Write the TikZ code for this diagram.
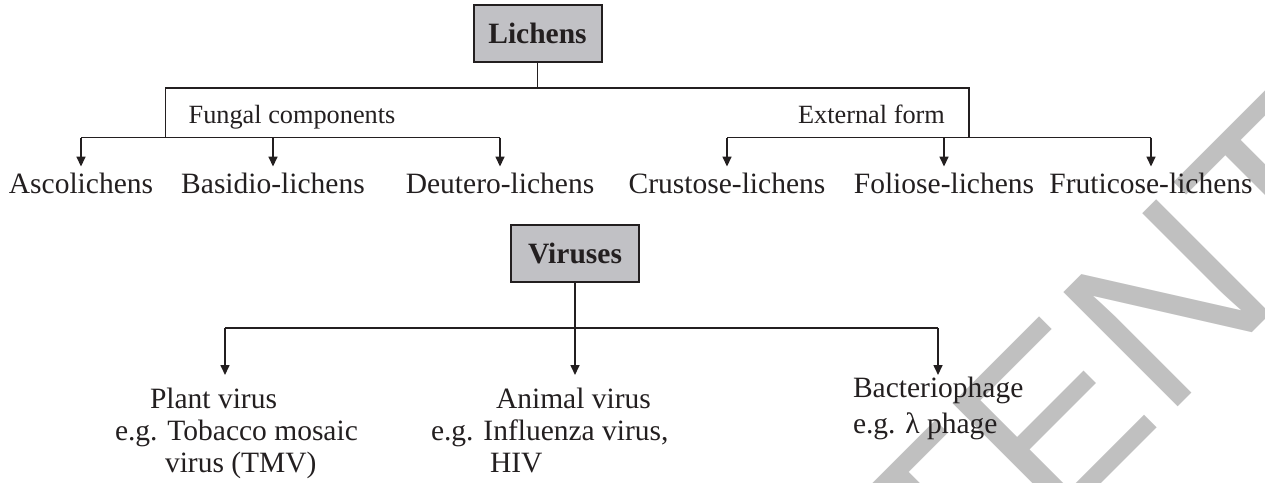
\documentclass[tikz,border=0pt]{standalone}
\usepackage{fontspec}
\setmainfont{Liberation Serif}
\newfontfamily\wmfont{Liberation Sans}
\usetikzlibrary{arrows.meta}
\definecolor{boxgray}{RGB}{193,193,197}
\definecolor{ink}{RGB}{35,31,32}
\definecolor{wmgray}{RGB}{192,192,192}
\begin{document}
\begin{tikzpicture}[x=1pt,y=-1pt,
  every node/.style={inner sep=0pt, outer sep=0pt, text=ink},
  headbox/.style={draw=ink, line width=2pt, fill=boxgray, minimum width=128pt, minimum height=56.5pt, font=\fontsize{29.5}{32}\selectfont\bfseries},
  leaf/.style={font=\fontsize{29.5}{32}\selectfont, anchor=base},
  grouplabel/.style={font=\fontsize{26.3}{30}\selectfont, anchor=base},
  vleaf/.style={font=\fontsize{29.5}{32}\selectfont, anchor=north west, align=left},
  conn/.style={draw=ink, line width=1.6pt},
  arr/.style={conn, -{Triangle[length=10pt,width=9pt]}},
]
\useasboundingbox (0,0) rectangle (1265,482);
% watermark
\begin{scope}
  \clip (0,0) rectangle (1265,482);
  \node[rotate=45, anchor=base west, font=\wmfont\fontsize{235}{240}\selectfont, text=wmgray] (wm) at (583,1002) {CONTENT};
\end{scope}

% Lichens tree
\node[headbox] (lichens) at (537.5,33.3) {Lichens};
\node[grouplabel] (fungal) at (292,123) {Fungal components};
\node[grouplabel] (external) at (871.5,123) {External form};
\node[leaf] (asco)  at (81,193)   {Ascolichens};
\node[leaf] (basid) at (273,193)  {Basidio-lichens};
\node[leaf] (deut)  at (500,193)  {Deutero-lichens};
\node[leaf] (crust) at (727,193)  {Crustose-lichens};
\node[leaf] (foli)  at (944,193)  {Foliose-lichens};
\node[leaf] (frut)  at (1151,193) {Fruticose-lichens};

\coordinate (ltop) at (537.5,87.7);
\coordinate (fj) at (165.5,137.5);
\coordinate (ej) at (969,137.5);
\draw[conn] (lichens.south) -- (ltop);
\draw[conn] (fj) -- (fj |- ltop) -- (ej |- ltop) -- (ej);
\draw[conn] (asco.north |- fj) -- (deut.north |- fj);
\draw[conn] (crust.north |- fj) -- (frut.north |- fj);
\foreach \n in {asco,basid,deut,crust,foli,frut}
  \draw[arr] (\n.north |- fj) -- ([yshift=6pt]\n.north);

% Viruses tree
\node[headbox] (viruses) at (575,253.5) {Viruses};
\node[vleaf] (plant) at (115,388) {\hspace*{35pt}Plant virus\\e.g. Tobacco mosaic\\\hspace*{50pt}virus (TMV)};
\node[vleaf] (animal) at (431,388) {\hspace*{65pt}Animal virus\\e.g. Influenza virus,\\\hspace*{59pt}HIV};
\node[vleaf, font=\fontsize{29.5}{36}\selectfont] (phage) at (853,377) {Bacteriophage\\e.g. λ phage};

\coordinate (vj) at (575,328);
\coordinate (pa) at (225,375);
\coordinate (aa) at (575,375);
\coordinate (ba) at (938,375);
\draw[conn] (pa |- vj) -- (ba |- vj);
\draw[arr] (viruses.south) -- (aa);
\draw[arr] (pa |- vj) -- (pa);
\draw[arr] (ba |- vj) -- (ba);
\end{tikzpicture}
\end{document}
